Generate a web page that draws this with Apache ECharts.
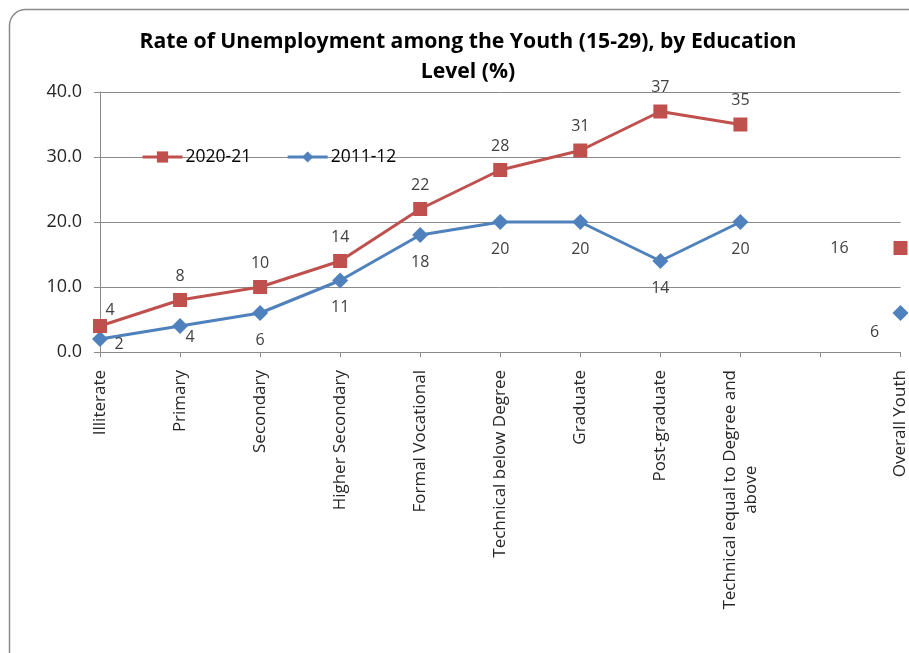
<!DOCTYPE html>
<html>
<head>
<meta charset="utf-8">
<script src="https://cdn.jsdelivr.net/npm/echarts@6/dist/echarts.min.js"></script>
<style>
  html, body { margin: 0; padding: 0; background: #ffffff; }
  #chart { width: 909px; height: 653px; }
</style>
</head>
<body>
<div id="chart"></div>
<script>
// Education levels; the blank entry separates the levels from the overall figure
const categories = [
  'Illiterate', 'Primary', 'Secondary', 'Higher Secondary', 'Formal Vocational',
  'Technical below Degree', 'Graduate', 'Post-graduate',
  'Technical equal to Degree and above', '', 'Overall Youth'
];
const rate2020 = [4, 8, 10, 14, 22, 28, 31, 37, 35, null, 16];
const rate2011 = [2, 4, 6, 11, 18, 20, 20, 14, 20, null, 6];
const yTicks = [0, 10, 20, 30, 40];
const seriesNames = ['2020-21', '2011-12'];

const FONT = '"Open Sans", sans-serif';
const RED = '#C0504D';
const BLUE = '#4F81BD';

// label offsets (px) from each marker centre
const redOffset = i => i === 0 ? [10, -16] : i === 10 ? [-61, 0] : [0, -24];
const blueOffset = i => i === 0 ? [19, 5] : i === 1 ? [10, 11] : i === 10 ? [-26, 19] : [0, 27];

function withLabels(values, offsetFn) {
  return values.map((v, i) => v == null ? null : {
    value: v,
    label: { offset: offsetFn(i) }
  });
}

// wrap long category names onto two lines, second line centred
function wrapLabel(name) {
  if (name.length <= 30) return '{c|' + name + '}';
  const cut = name.lastIndexOf(' ', 30);
  return '{c|' + name.slice(0, cut) + '}\n{c|' + name.slice(cut + 1) + '}';
}

const chart = echarts.init(document.getElementById('chart'), null, { renderer: 'canvas' });

const labelStyle = {
  show: true,
  position: 'inside',
  fontFamily: FONT,
  fontSize: 16,
  color: '#404040',
  formatter: p => p.value
};

chart.setOption({
  backgroundColor: '#ffffff',
  animation: false,
  graphic: [{
    type: 'rect',
    z: -10,
    shape: { x: 9.5, y: 9.5, width: 920, height: 670, r: 16 },
    style: { fill: '#ffffff', stroke: '#8a8a8a', lineWidth: 1.5 }
  }],
  title: {
    text: 'Rate of Unemployment among the Youth (15-29), by Education\nLevel (%)',
    left: 463,
    textAlign: 'center',
    top: 22,
    textStyle: {
      fontFamily: FONT,
      fontWeight: 'bold',
      fontSize: 21.2,
      lineHeight: 30,
      color: '#000000'
    }
  },
  legend: {
    left: 136,
    top: 143,
    itemWidth: 40,
    itemHeight: 14,
    itemGap: 35,
    data: seriesNames,
    lineStyle: { width: 3 },
    textStyle: { fontFamily: FONT, fontSize: 17.5, color: '#000000', padding: [0, 0, 0, -2] }
  },
  grid: { left: 100, right: 5, top: 92, bottom: 301 },
  xAxis: {
    type: 'category',
    data: categories,
    boundaryGap: false,
    axisLine: { lineStyle: { color: '#8a8a8a', width: 1 } },
    axisTick: { show: true, length: 5, interval: 0, lineStyle: { color: '#8a8a8a' } },
    axisLabel: {
      interval: 0,
      rotate: 90,
      margin: 18,
      fontFamily: FONT,
      fontSize: 17,
      color: '#262626',
      formatter: wrapLabel,
      rich: { c: { align: 'center', fontFamily: FONT, fontSize: 17, color: '#262626', lineHeight: 21 } }
    },
    splitLine: { show: false }
  },
  yAxis: {
    type: 'value',
    min: yTicks[0],
    max: yTicks[yTicks.length - 1],
    interval: yTicks[1] - yTicks[0],
    axisLine: { show: true, lineStyle: { color: '#8a8a8a', width: 1 } },
    axisTick: { show: true, length: 6, lineStyle: { color: '#8a8a8a' } },
    axisLabel: {
      margin: 18,
      fontFamily: FONT,
      fontSize: 18,
      color: '#262626',
      formatter: v => v.toFixed(1)
    },
    splitLine: { show: true, lineStyle: { color: '#8a8a8a', width: 1 } }
  },
  series: [
    {
      name: seriesNames[0],
      type: 'line',
      data: withLabels(rate2020, redOffset),
      connectNulls: false,
      symbol: 'rect',
      symbolSize: 14,
      color: RED,
      lineStyle: { width: 3, color: RED },
      itemStyle: { color: RED },
      label: labelStyle,
      z: 3
    },
    {
      name: seriesNames[1],
      type: 'line',
      data: withLabels(rate2011, blueOffset),
      connectNulls: false,
      symbol: 'diamond',
      symbolSize: 16,
      color: BLUE,
      lineStyle: { width: 3, color: BLUE },
      itemStyle: { color: BLUE },
      label: labelStyle,
      z: 2
    }
  ]
});
</script>
</body>
</html>
